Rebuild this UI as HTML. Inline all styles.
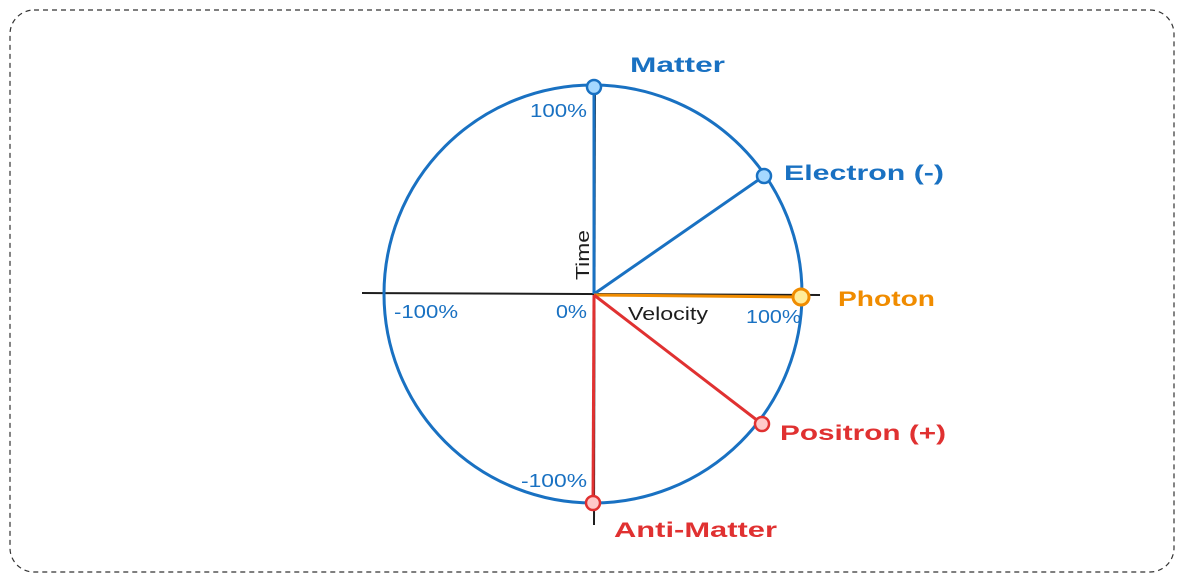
<!DOCTYPE html>
<html><head><meta charset="utf-8"><style>
html,body{margin:0;padding:0;background:#fff;}
svg text{font-family:"Liberation Sans",sans-serif;}
</style></head><body>
<svg width="1184" height="582" viewBox="0 0 1184 582" xmlns="http://www.w3.org/2000/svg">
<rect x="10" y="10" width="1164" height="562" rx="24" fill="none" stroke="#333" stroke-width="1.2" stroke-dasharray="5,4"/>
<line x1="362" y1="293" x2="820" y2="295" stroke="#1e1e1e" stroke-width="2"/>
<line x1="595" y1="80" x2="594" y2="525" stroke="#1e1e1e" stroke-width="2"/>
<circle cx="593" cy="294" r="209" fill="none" stroke="#1971c2" stroke-width="3"/>
<line x1="594" y1="294" x2="594" y2="87" stroke="#1971c2" stroke-width="3"/>
<line x1="594" y1="294" x2="764" y2="176" stroke="#1971c2" stroke-width="3"/>
<line x1="594" y1="295" x2="801" y2="297" stroke="#f08c00" stroke-width="3"/>
<line x1="594" y1="295" x2="762" y2="424" stroke="#e03131" stroke-width="3"/>
<line x1="594" y1="295" x2="593" y2="503" stroke="#e03131" stroke-width="3"/>
<circle cx="594" cy="87" r="7" fill="#a5d8ff" stroke="#1971c2" stroke-width="2.5"/>
<circle cx="764" cy="176" r="7" fill="#a5d8ff" stroke="#1971c2" stroke-width="2.5"/>
<circle cx="801" cy="297" r="8" fill="#ffec99" stroke="#f08c00" stroke-width="3"/>
<circle cx="762" cy="424" r="7" fill="#ffc9c9" stroke="#e03131" stroke-width="2.5"/>
<circle cx="593" cy="503" r="7" fill="#ffc9c9" stroke="#e03131" stroke-width="2.5"/>
<g font-size="21" font-weight="bold" lengthAdjust="spacingAndGlyphs">
<text x="630" y="72" fill="#1971c2" textLength="95" lengthAdjust="spacingAndGlyphs">Matter</text>
<text x="784" y="180" fill="#1971c2" textLength="160" lengthAdjust="spacingAndGlyphs">Electron (-)</text>
<text x="838" y="306" fill="#f08c00" textLength="97" lengthAdjust="spacingAndGlyphs">Photon</text>
<text x="780" y="440" fill="#e03131" textLength="166" lengthAdjust="spacingAndGlyphs">Positron (+)</text>
<text x="614" y="537" fill="#e03131" textLength="163" lengthAdjust="spacingAndGlyphs">Anti-Matter</text>
</g>
<g font-size="18" fill="#1971c2">
<text x="530" y="117" textLength="57" lengthAdjust="spacingAndGlyphs">100%</text>
<text x="394" y="318" textLength="64" lengthAdjust="spacingAndGlyphs">-100%</text>
<text x="556" y="318" textLength="31" lengthAdjust="spacingAndGlyphs">0%</text>
<text x="746" y="323" textLength="55" lengthAdjust="spacingAndGlyphs">100%</text>
<text x="521" y="487" textLength="66" lengthAdjust="spacingAndGlyphs">-100%</text>
</g>
<text x="628" y="320" font-size="18" fill="#1e1e1e" textLength="80" lengthAdjust="spacingAndGlyphs">Velocity</text>
<text x="0" y="0" font-size="18" fill="#1e1e1e" textLength="50" lengthAdjust="spacingAndGlyphs" transform="translate(589,280) rotate(-90)">Time</text>
</svg>
</body></html>
